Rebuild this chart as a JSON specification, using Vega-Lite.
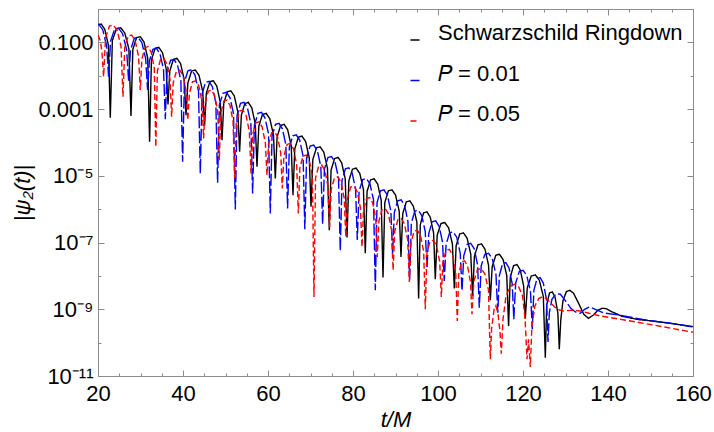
{
"$schema": "https://vega.github.io/schema/vega-lite/v6.json",
"width": 595, "height": 367,
"autosize": {"type": "none"},
"padding": {"left": 98, "top": 9, "right": 21, "bottom": 56},
"background": "white",
"config": {
 "view": {"stroke": "#8c8c8c", "strokeWidth": 1},
 "font": "Liberation Sans",
 "axis": {"labelFont": "Liberation Sans", "labelFontSize": 22, "labelColor": "#000000", "titleFont": "Liberation Sans", "titleFontSize": 22, "titleFontWeight": "normal", "titleColor": "#000000", "domain": false, "grid": false, "tickColor": "#8c8c8c", "tickWidth": 1},
 "legend": {"orient": "none", "legendX": 306, "legendY": 20, "symbolType": "stroke", "symbolSize": 81, "symbolStrokeWidth": 1.5, "labelFont": "Liberation Sans", "labelFontSize": 22, "labelColor": "#000000", "labelOffset": 12, "labelBaseline": "alphabetic", "rowPadding": 18.5, "padding": 0, "labelLimit": 400}
},
"datasets": {
"black": [
{"t":20,"lg":-0.47},{"t":20.75,"lg":-0.45},{"t":21.6,"lg":-0.61},{"t":22.46,"lg":-1.09},{"t":22.89,"lg":-3.26},
{"t":23.38,"lg":-0.94},{"t":24.35,"lg":-0.59},{"t":25.33,"lg":-0.56},{"t":26.3,"lg":-0.72},{"t":27.27,"lg":-1.2},{"t":27.76,"lg":-3.21},
{"t":28.2,"lg":-1.21},{"t":29.07,"lg":-0.86},{"t":29.95,"lg":-0.83},{"t":30.83,"lg":-0.99},{"t":31.7,"lg":-1.47},{"t":32.14,"lg":-3.98},
{"t":32.57,"lg":-1.53},{"t":33.44,"lg":-1.18},{"t":34.31,"lg":-1.15},{"t":35.17,"lg":-1.31},{"t":36.04,"lg":-1.79},{"t":36.47,"lg":-2.86},
{"t":36.89,"lg":-1.86},{"t":37.74,"lg":-1.51},{"t":38.59,"lg":-1.48},{"t":39.44,"lg":-1.64},{"t":40.29,"lg":-2.12},{"t":40.71,"lg":-3.18},
{"t":41.15,"lg":-2.21},{"t":42.02,"lg":-1.86},{"t":42.9,"lg":-1.83},{"t":43.77,"lg":-1.99},{"t":44.64,"lg":-2.47},{"t":45.08,"lg":-3.5},
{"t":45.49,"lg":-2.53},{"t":46.31,"lg":-2.18},{"t":47.13,"lg":-2.15},{"t":47.95,"lg":-2.31},{"t":48.77,"lg":-2.79},{"t":49.18,"lg":-3.93},
{"t":49.59,"lg":-2.83},{"t":50.42,"lg":-2.48},{"t":51.25,"lg":-2.45},{"t":52.08,"lg":-2.61},{"t":52.91,"lg":-3.09},{"t":53.32,"lg":-4.28},
{"t":53.73,"lg":-3.18},{"t":54.55,"lg":-2.83},{"t":55.37,"lg":-2.8},{"t":56.18,"lg":-2.96},{"t":57.0,"lg":-3.44},{"t":57.41,"lg":-4.73},
{"t":57.84,"lg":-3.51},{"t":58.7,"lg":-3.16},{"t":59.57,"lg":-3.13},{"t":60.43,"lg":-3.29},{"t":61.29,"lg":-3.77},{"t":61.72,"lg":-5.08},
{"t":62.14,"lg":-3.84},{"t":62.97,"lg":-3.49},{"t":63.8,"lg":-3.46},{"t":64.63,"lg":-3.62},{"t":65.46,"lg":-4.1},{"t":65.88,"lg":-5.58},
{"t":66.3,"lg":-4.19},{"t":67.15,"lg":-3.84},{"t":68.0,"lg":-3.81},{"t":68.85,"lg":-3.97},{"t":69.7,"lg":-4.45},{"t":70.12,"lg":-5.93},
{"t":70.55,"lg":-4.51},{"t":71.41,"lg":-4.16},{"t":72.27,"lg":-4.13},{"t":73.13,"lg":-4.29},{"t":73.99,"lg":-4.77},{"t":74.42,"lg":-6.63},
{"t":74.84,"lg":-4.83},{"t":75.67,"lg":-4.48},{"t":76.51,"lg":-4.45},{"t":77.34,"lg":-4.61},{"t":78.17,"lg":-5.09},{"t":78.59,"lg":-6.85},
{"t":79.02,"lg":-5.15},{"t":79.88,"lg":-4.8},{"t":80.74,"lg":-4.77},{"t":81.6,"lg":-4.93},{"t":82.46,"lg":-5.41},{"t":82.89,"lg":-7.32},
{"t":83.31,"lg":-5.47},{"t":84.14,"lg":-5.12},{"t":84.98,"lg":-5.09},{"t":85.81,"lg":-5.25},{"t":86.64,"lg":-5.73},{"t":87.06,"lg":-8.05},
{"t":87.48,"lg":-5.8},{"t":88.33,"lg":-5.45},{"t":89.18,"lg":-5.42},{"t":90.02,"lg":-5.58},{"t":90.87,"lg":-6.06},{"t":91.29,"lg":-7.43},
{"t":91.71,"lg":-6.13},{"t":92.54,"lg":-5.78},{"t":93.37,"lg":-5.75},{"t":94.2,"lg":-5.91},{"t":95.03,"lg":-6.39},{"t":95.44,"lg":-8.68},
{"t":95.83,"lg":-6.46},{"t":96.62,"lg":-6.11},{"t":97.4,"lg":-6.08},{"t":98.18,"lg":-6.24},{"t":98.97,"lg":-6.72},{"t":99.36,"lg":-8.1},
{"t":99.81,"lg":-6.78},{"t":100.7,"lg":-6.43},{"t":101.6,"lg":-6.4},{"t":102.5,"lg":-6.56},{"t":103.39,"lg":-7.04},{"t":103.84,"lg":-8.38},
{"t":104.27,"lg":-7.09},{"t":105.13,"lg":-6.74},{"t":105.99,"lg":-6.71},{"t":106.85,"lg":-6.87},{"t":107.71,"lg":-7.35},{"t":108.14,"lg":-8.6},
{"t":108.56,"lg":-7.42},{"t":109.39,"lg":-7.07},{"t":110.23,"lg":-7.04},{"t":111.06,"lg":-7.2},{"t":111.89,"lg":-7.68},{"t":112.31,"lg":-8.73},
{"t":112.74,"lg":-7.73},{"t":113.6,"lg":-7.38},{"t":114.46,"lg":-7.35},{"t":115.32,"lg":-7.51},{"t":116.18,"lg":-7.99},{"t":116.61,"lg":-9.5},
{"t":117.0,"lg":-8.04},{"t":117.79,"lg":-7.69},{"t":118.58,"lg":-7.66},{"t":119.36,"lg":-7.82},{"t":120.15,"lg":-8.3},{"t":120.54,"lg":-9.28},
{"t":121.01,"lg":-8.35},{"t":121.95,"lg":-8.0},{"t":122.9,"lg":-7.97},{"t":123.84,"lg":-8.13},{"t":124.78,"lg":-8.61},{"t":125.25,"lg":-10.45},
{"t":125.58,"lg":-8.86},{"t":126.24,"lg":-8.51},{"t":126.9,"lg":-8.48},{"t":127.55,"lg":-8.64},{"t":128.21,"lg":-9.12},{"t":128.54,"lg":-10.2},
{"t":128.9,"lg":-9.3},{"t":129.4,"lg":-8.75},{"t":130.2,"lg":-8.47},{"t":131.0,"lg":-8.43},{"t":131.9,"lg":-8.52},{"t":133.0,"lg":-8.8},{"t":134.3,"lg":-9.15},{"t":135.4,"lg":-9.27},{"t":136.5,"lg":-9.18},{"t":137.6,"lg":-9.03},{"t":138.6,"lg":-8.97},{"t":139.5,"lg":-8.98},{"t":141.0,"lg":-9.08},{"t":143.3,"lg":-9.21},{"t":147.2,"lg":-9.31},{"t":151.1,"lg":-9.36},{"t":155.1,"lg":-9.43},{"t":160,"lg":-9.52}
],
"blue": [
{"t":20,"lg":-0.46},{"t":20.19,"lg":-0.46},{"t":21.11,"lg":-0.62},{"t":22.03,"lg":-1.1},{"t":22.49,"lg":-2.03},
{"t":22.96,"lg":-0.96},{"t":23.9,"lg":-0.61},{"t":24.85,"lg":-0.58},{"t":25.79,"lg":-0.74},{"t":26.73,"lg":-1.22},{"t":27.2,"lg":-2.15},
{"t":27.65,"lg":-1.23},{"t":28.54,"lg":-0.88},{"t":29.44,"lg":-0.85},{"t":30.33,"lg":-1.01},{"t":31.22,"lg":-1.49},{"t":31.67,"lg":-2.43},
{"t":32.09,"lg":-1.56},{"t":32.92,"lg":-1.21},{"t":33.76,"lg":-1.18},{"t":34.59,"lg":-1.34},{"t":35.42,"lg":-1.82},{"t":35.84,"lg":-3.3},
{"t":36.25,"lg":-1.89},{"t":37.06,"lg":-1.54},{"t":37.88,"lg":-1.51},{"t":38.69,"lg":-1.67},{"t":39.5,"lg":-2.15},{"t":39.91,"lg":-4.58},
{"t":40.33,"lg":-2.2},{"t":41.16,"lg":-1.85},{"t":41.99,"lg":-1.82},{"t":42.82,"lg":-1.98},{"t":43.65,"lg":-2.46},{"t":44.07,"lg":-4.93},
{"t":44.48,"lg":-2.55},{"t":45.29,"lg":-2.2},{"t":46.11,"lg":-2.17},{"t":46.92,"lg":-2.33},{"t":47.73,"lg":-2.81},{"t":48.14,"lg":-5.21},
{"t":48.56,"lg":-2.88},{"t":49.39,"lg":-2.53},{"t":50.23,"lg":-2.5},{"t":51.06,"lg":-2.66},{"t":51.89,"lg":-3.14},{"t":52.31,"lg":-6.01},
{"t":52.72,"lg":-3.18},{"t":53.53,"lg":-2.83},{"t":54.35,"lg":-2.8},{"t":55.16,"lg":-2.96},{"t":55.97,"lg":-3.44},{"t":56.38,"lg":-5.53},
{"t":56.8,"lg":-3.48},{"t":57.63,"lg":-3.13},{"t":58.46,"lg":-3.1},{"t":59.29,"lg":-3.26},{"t":60.12,"lg":-3.74},{"t":60.54,"lg":-6.13},
{"t":60.95,"lg":-3.81},{"t":61.76,"lg":-3.46},{"t":62.58,"lg":-3.43},{"t":63.39,"lg":-3.59},{"t":64.2,"lg":-4.07},{"t":64.61,"lg":-5.98},
{"t":65.02,"lg":-4.15},{"t":65.83,"lg":-3.8},{"t":66.64,"lg":-3.77},{"t":67.45,"lg":-3.93},{"t":68.26,"lg":-4.41},{"t":68.66,"lg":-6.6},
{"t":69.08,"lg":-4.46},{"t":69.92,"lg":-4.11},{"t":70.76,"lg":-4.08},{"t":71.59,"lg":-4.24},{"t":72.43,"lg":-4.72},{"t":72.85,"lg":-6.45},
{"t":73.27,"lg":-4.8},{"t":74.1,"lg":-4.45},{"t":74.93,"lg":-4.42},{"t":75.76,"lg":-4.58},{"t":76.59,"lg":-5.06},{"t":77.01,"lg":-7.25},
{"t":77.41,"lg":-5.14},{"t":78.21,"lg":-4.79},{"t":79.01,"lg":-4.76},{"t":79.81,"lg":-4.92},{"t":80.61,"lg":-5.4},{"t":81.01,"lg":-6.92},
{"t":81.43,"lg":-5.46},{"t":82.28,"lg":-5.11},{"t":83.13,"lg":-5.08},{"t":83.98,"lg":-5.24},{"t":84.83,"lg":-5.72},{"t":85.25,"lg":-8.43},
{"t":85.66,"lg":-5.8},{"t":86.47,"lg":-5.45},{"t":87.29,"lg":-5.42},{"t":88.1,"lg":-5.58},{"t":88.91,"lg":-6.06},{"t":89.32,"lg":-7.35},
{"t":89.72,"lg":-6.1},{"t":90.52,"lg":-5.75},{"t":91.32,"lg":-5.72},{"t":92.12,"lg":-5.88},{"t":92.92,"lg":-6.36},{"t":93.32,"lg":-8.13},
{"t":93.73,"lg":-6.41},{"t":94.55,"lg":-6.06},{"t":95.37,"lg":-6.03},{"t":96.18,"lg":-6.19},{"t":97.0,"lg":-6.67},{"t":97.41,"lg":-7.78},
{"t":97.82,"lg":-6.73},{"t":98.63,"lg":-6.38},{"t":99.45,"lg":-6.35},{"t":100.26,"lg":-6.51},{"t":101.07,"lg":-6.99},{"t":101.48,"lg":-8.15},
{"t":101.9,"lg":-7.06},{"t":102.73,"lg":-6.71},{"t":103.57,"lg":-6.68},{"t":104.4,"lg":-6.84},{"t":105.23,"lg":-7.32},{"t":105.65,"lg":-8.45},
{"t":106.06,"lg":-7.4},{"t":106.87,"lg":-7.05},{"t":107.69,"lg":-7.02},{"t":108.5,"lg":-7.18},{"t":109.31,"lg":-7.66},{"t":109.72,"lg":-8.95},
{"t":110.16,"lg":-7.7},{"t":111.03,"lg":-7.35},{"t":111.9,"lg":-7.32},{"t":112.77,"lg":-7.48},{"t":113.64,"lg":-7.96},{"t":114.07,"lg":-9.1},
{"t":114.45,"lg":-7.98},{"t":115.2,"lg":-7.63},{"t":115.96,"lg":-7.6},{"t":116.71,"lg":-7.76},{"t":117.46,"lg":-8.24},{"t":117.84,"lg":-9.3},
{"t":118.28,"lg":-8.21},{"t":119.15,"lg":-7.86},{"t":120.02,"lg":-7.83},{"t":120.89,"lg":-7.99},{"t":121.76,"lg":-8.47},{"t":122.19,"lg":-9.6},
{"t":122.56,"lg":-8.43},{"t":123.3,"lg":-8.08},{"t":124.04,"lg":-8.05},{"t":124.77,"lg":-8.21},{"t":125.51,"lg":-8.69},{"t":125.88,"lg":-9.98},
{"t":126.2,"lg":-9.1},{"t":126.8,"lg":-8.7},{"t":127.8,"lg":-8.53},{"t":128.8,"lg":-8.55},{"t":130.0,"lg":-8.75},{"t":131.3,"lg":-8.98},{"t":132.6,"lg":-9.1},{"t":133.5,"lg":-9.12},{"t":134.5,"lg":-9.0},{"t":135.6,"lg":-8.93},{"t":137.0,"lg":-9.0},{"t":139.0,"lg":-9.11},{"t":142.9,"lg":-9.18},{"t":149.2,"lg":-9.33},{"t":155.4,"lg":-9.43},{"t":160,"lg":-9.53}
],
"red": [
{"t":20,"lg":-0.78},{"t":20.55,"lg":-0.95},{"t":20.94,"lg":-1.3},{"t":21.32,"lg":-2.03},
{"t":21.78,"lg":-0.86},{"t":22.69,"lg":-0.51},{"t":23.6,"lg":-0.48},{"t":24.51,"lg":-0.64},{"t":25.42,"lg":-1.12},{"t":25.88,"lg":-2.63},
{"t":26.29,"lg":-1.16},{"t":27.1,"lg":-0.81},{"t":27.92,"lg":-0.78},{"t":28.73,"lg":-0.94},{"t":29.54,"lg":-1.42},{"t":29.95,"lg":-2.43},
{"t":30.32,"lg":-1.51},{"t":31.05,"lg":-1.16},{"t":31.78,"lg":-1.13},{"t":32.51,"lg":-1.29},{"t":33.24,"lg":-1.77},{"t":33.6,"lg":-4.13},
{"t":33.97,"lg":-1.86},{"t":34.72,"lg":-1.51},{"t":35.46,"lg":-1.48},{"t":36.2,"lg":-1.64},{"t":36.95,"lg":-2.12},{"t":37.32,"lg":-3.23},
{"t":37.7,"lg":-2.21},{"t":38.46,"lg":-1.86},{"t":39.23,"lg":-1.83},{"t":39.99,"lg":-1.99},{"t":40.75,"lg":-2.47},{"t":41.13,"lg":-3.33},
{"t":41.5,"lg":-2.53},{"t":42.25,"lg":-2.18},{"t":42.99,"lg":-2.15},{"t":43.73,"lg":-2.31},{"t":44.48,"lg":-2.79},{"t":44.85,"lg":-3.88},
{"t":45.22,"lg":-2.81},{"t":45.96,"lg":-2.46},{"t":46.7,"lg":-2.43},{"t":47.43,"lg":-2.59},{"t":48.17,"lg":-3.07},{"t":48.54,"lg":-4.53},
{"t":48.9,"lg":-3.11},{"t":49.62,"lg":-2.76},{"t":50.34,"lg":-2.73},{"t":51.06,"lg":-2.89},{"t":51.78,"lg":-3.37},{"t":52.14,"lg":-5.08},
{"t":52.53,"lg":-3.41},{"t":53.3,"lg":-3.06},{"t":54.07,"lg":-3.03},{"t":54.84,"lg":-3.19},{"t":55.61,"lg":-3.67},{"t":56.0,"lg":-4.93},
{"t":56.38,"lg":-3.76},{"t":57.13,"lg":-3.41},{"t":57.88,"lg":-3.38},{"t":58.63,"lg":-3.54},{"t":59.38,"lg":-4.02},{"t":59.76,"lg":-4.98},
{"t":60.12,"lg":-4.06},{"t":60.84,"lg":-3.71},{"t":61.56,"lg":-3.68},{"t":62.28,"lg":-3.84},{"t":63.0,"lg":-4.32},{"t":63.36,"lg":-5.38},
{"t":63.74,"lg":-4.41},{"t":64.49,"lg":-4.06},{"t":65.25,"lg":-4.03},{"t":66.0,"lg":-4.19},{"t":66.75,"lg":-4.67},{"t":67.13,"lg":-6.13},
{"t":67.5,"lg":-4.76},{"t":68.24,"lg":-4.41},{"t":68.98,"lg":-4.38},{"t":69.71,"lg":-4.54},{"t":70.45,"lg":-5.02},{"t":70.82,"lg":-8.63},
{"t":71.19,"lg":-5.06},{"t":71.92,"lg":-4.71},{"t":72.66,"lg":-4.68},{"t":73.39,"lg":-4.84},{"t":74.12,"lg":-5.32},{"t":74.49,"lg":-6.55},
{"t":74.87,"lg":-5.41},{"t":75.64,"lg":-5.06},{"t":76.4,"lg":-5.03},{"t":77.16,"lg":-5.19},{"t":77.93,"lg":-5.67},{"t":78.31,"lg":-6.83},
{"t":78.69,"lg":-5.69},{"t":79.45,"lg":-5.34},{"t":80.22,"lg":-5.31},{"t":80.98,"lg":-5.47},{"t":81.74,"lg":-5.95},{"t":82.12,"lg":-7.13},
{"t":82.48,"lg":-6.03},{"t":83.2,"lg":-5.68},{"t":83.92,"lg":-5.65},{"t":84.64,"lg":-5.81},{"t":85.36,"lg":-6.29},{"t":85.72,"lg":-7.43},
{"t":86.09,"lg":-6.36},{"t":86.84,"lg":-6.01},{"t":87.58,"lg":-5.98},{"t":88.32,"lg":-6.14},{"t":89.07,"lg":-6.62},{"t":89.44,"lg":-7.83},
{"t":89.82,"lg":-6.66},{"t":90.58,"lg":-6.31},{"t":91.35,"lg":-6.28},{"t":92.11,"lg":-6.44},{"t":92.87,"lg":-6.92},{"t":93.25,"lg":-8.18},
{"t":93.63,"lg":-7.01},{"t":94.38,"lg":-6.66},{"t":95.13,"lg":-6.63},{"t":95.88,"lg":-6.79},{"t":96.63,"lg":-7.27},{"t":97.01,"lg":-9.0},
{"t":97.39,"lg":-7.31},{"t":98.14,"lg":-6.96},{"t":98.9,"lg":-6.93},{"t":99.65,"lg":-7.09},{"t":100.4,"lg":-7.57},{"t":100.78,"lg":-8.63},
{"t":101.16,"lg":-7.58},{"t":101.91,"lg":-7.23},{"t":102.66,"lg":-7.2},{"t":103.41,"lg":-7.36},{"t":104.16,"lg":-7.84},{"t":104.54,"lg":-9.35},
{"t":104.89,"lg":-7.93},{"t":105.58,"lg":-7.58},{"t":106.27,"lg":-7.55},{"t":106.96,"lg":-7.71},{"t":107.65,"lg":-8.19},{"t":108.0,"lg":-9.15},
{"t":108.43,"lg":-8.16},{"t":109.29,"lg":-7.81},{"t":110.16,"lg":-7.78},{"t":111.02,"lg":-7.94},{"t":111.88,"lg":-8.42},{"t":112.31,"lg":-10.5},
{"t":112.6,"lg":-9.6},{"t":113.2,"lg":-9.0},{"t":113.6,"lg":-8.9},{"t":114.1,"lg":-9.1},{"t":114.6,"lg":-9.7},{"t":114.89,"lg":-10.33},
{"t":115.3,"lg":-9.3},{"t":116.0,"lg":-8.6},{"t":117.0,"lg":-8.32},{"t":118.0,"lg":-8.25},{"t":119.0,"lg":-8.33},{"t":119.9,"lg":-8.6},{"t":120.5,"lg":-9.3},{"t":120.94,"lg":-10.5},{"t":121.3,"lg":-9.9},{"t":121.72,"lg":-10.73},
{"t":122.1,"lg":-9.5},{"t":122.8,"lg":-8.9},{"t":123.7,"lg":-8.68},{"t":124.5,"lg":-8.63},{"t":125.5,"lg":-8.68},{"t":126.8,"lg":-8.85},{"t":128.0,"lg":-9.0},{"t":129.5,"lg":-9.05},{"t":131.5,"lg":-9.03},{"t":133.5,"lg":-9.05},{"t":135.5,"lg":-9.12},{"t":138.2,"lg":-9.2},{"t":143.3,"lg":-9.31},{"t":151.1,"lg":-9.48},{"t":160,"lg":-9.69}
]
},
"resolve": {"axis": {"x": "independent", "y": "independent"}},
"layer": [
 {"data": {"name": "black"},
  "mark": {"type": "line", "strokeWidth": 1.4, "clip": true},
  "encoding": {
   "x": {"field": "t", "type": "quantitative", "scale": {"domain": [20, 160], "nice": false, "zero": false},
         "axis": {"orient": "bottom", "values": [20,40,60,80,100,120,140,160], "ticks": false, "labelPadding": 7, "labelFlush": false, "labelOverlap": false, "title": "t/M", "titleFontStyle": "italic", "titlePadding": 5}},
   "y": {"field": "lg", "type": "quantitative", "scale": {"domain": [-11, 0], "nice": false, "zero": false},
         "axis": {"orient": "left", "values": [-11,-9,-7,-5,-3,-1], "ticks": false, "labelPadding": 5, "labelFlush": false, "labelOverlap": false,
                  "labelExpr": "datum.value === -1 ? '0.100' : datum.value === -3 ? '0.001' : datum.value === -5 ? '10⁻⁵' : datum.value === -7 ? '10⁻⁷' : datum.value === -9 ? '10⁻⁹' : '10⁻¹¹'",
                  "title": "|ψ₂(t)|", "titleFontStyle": "italic", "titlePadding": 3}},
   "color": {"datum": "Schwarzschild Ringdown", "type": "nominal",
             "scale": {"domain": ["Schwarzschild Ringdown", "𝑃 = 0.01", "𝑃 = 0.05"], "range": ["#000000", "#0000ff", "#ff0000"]},
             "legend": {"title": null}},
   "strokeDash": {"datum": "Schwarzschild Ringdown", "type": "nominal",
             "scale": {"domain": ["Schwarzschild Ringdown", "𝑃 = 0.01", "𝑃 = 0.05"], "range": [[1,0],[12,3],[6,3]]},
             "legend": null}
  }},
 {"data": {"name": "blue"},
  "mark": {"type": "line", "strokeWidth": 1.4, "clip": true},
  "encoding": {
   "x": {"field": "t", "type": "quantitative",
         "axis": {"orient": "bottom", "values": [20,25,30,35,40,45,50,55,60,65,70,75,80,85,90,95,100,105,110,115,120,125,130,135,140,145,150,155,160], "labels": false, "title": null,
                  "tickSize": {"condition": {"test": "datum.value % 20 === 0", "value": -6}, "value": -3}}},
   "y": {"field": "lg", "type": "quantitative",
         "axis": {"orient": "left", "values": [-11,-10,-9,-8,-7,-6,-5,-4,-3,-2,-1,0], "labels": false, "title": null,
                  "tickSize": {"condition": {"test": "abs(datum.value) % 2 === 1", "value": -6}, "value": -3}}},
   "color": {"datum": "𝑃 = 0.01", "type": "nominal"},
   "strokeDash": {"datum": "𝑃 = 0.01", "type": "nominal"}
  }},
 {"data": {"name": "red"},
  "mark": {"type": "line", "strokeWidth": 1.4, "clip": true},
  "encoding": {
   "x": {"field": "t", "type": "quantitative",
         "axis": {"orient": "top", "values": [20,25,30,35,40,45,50,55,60,65,70,75,80,85,90,95,100,105,110,115,120,125,130,135,140,145,150,155,160], "labels": false, "title": null,
                  "tickSize": {"condition": {"test": "datum.value % 20 === 0", "value": -6}, "value": -3}}},
   "y": {"field": "lg", "type": "quantitative",
         "axis": {"orient": "right", "values": [-11,-10,-9,-8,-7,-6,-5,-4,-3,-2,-1,0], "labels": false, "title": null,
                  "tickSize": {"condition": {"test": "abs(datum.value) % 2 === 1", "value": -6}, "value": -3}}},
   "color": {"datum": "𝑃 = 0.05", "type": "nominal"},
   "strokeDash": {"datum": "𝑃 = 0.05", "type": "nominal"}
  }}
]
}
